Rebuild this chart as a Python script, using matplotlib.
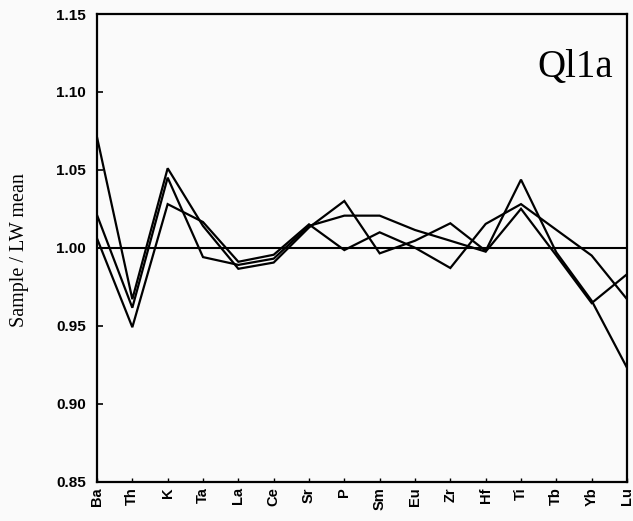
import matplotlib
matplotlib.use("Agg")
import matplotlib.pyplot as plt

elements = ["Ba", "Th", "K", "Ta", "La", "Ce", "Sr", "P", "Sm", "Eu",
            "Zr", "Hf", "Ti", "Tb", "Yb", "Lu"]

sample_a = [1.071, 0.967, 1.051, 1.014, 0.9865, 0.9905, 1.013, 1.030, 0.9964,
            1.0045, 1.0157, 0.998, 1.0437, 0.997, 0.966, 0.923]
sample_b = [1.021, 0.9615, 1.045, 0.994, 0.989, 0.993, 1.014, 1.0206, 1.0206,
            1.0114, 1.0045, 0.9975, 1.025, 0.995, 0.9645, 0.983]
sample_c = [1.006, 0.949, 1.028, 1.0165, 0.991, 0.9955, 1.015, 0.9985, 1.0099,
            1.000, 0.987, 1.0153, 1.028, 1.0115, 0.995, 0.967]

yticks = [0.85, 0.90, 0.95, 1.00, 1.05, 1.10, 1.15]
title = "Ql1a"
ylabel = "Sample / LW mean"

bg = "#fafafa"
fig = plt.figure(figsize=(6.33, 5.21), dpi=100, facecolor=bg)
ax = fig.add_axes([97 / 633, 1 - 481.5 / 521, 530 / 633, 467.5 / 521], facecolor=bg)

x = list(range(len(elements)))
for s in (sample_a, sample_b, sample_c):
    ax.plot(x, s, color="black", lw=1.6, solid_joinstyle="miter")
ax.axhline(1.0, color="black", lw=1.5)

ax.set_xlim(0, len(elements) - 1)
ax.set_ylim(0.85, 1.15)
ax.set_yticks(yticks)
ax.set_yticklabels([f"{v:.2f}" for v in yticks], fontsize=11, fontweight="bold",
                   family="Liberation Sans")
ax.set_xticks(x)
ax.set_xticklabels(elements, rotation=90, fontsize=10.5, fontweight="bold",
                   family="Liberation Sans")
ax.tick_params(axis="y", direction="in", length=4, width=1.2, pad=8)
ax.tick_params(axis="x", direction="in", length=3, width=1.0, pad=4)
for sp in ax.spines.values():
    sp.set_linewidth(1.6)

ax.set_ylabel(ylabel, family="Liberation Serif", fontsize=14.5)
ax.yaxis.set_label_coords(-0.129, 0.494)

ax.text(0.9736, 0.866, title, transform=ax.transAxes, ha="right", va="baseline",
        family="Liberation Serif", fontsize=28)

fig.savefig("out.png", dpi=100, facecolor=bg)
